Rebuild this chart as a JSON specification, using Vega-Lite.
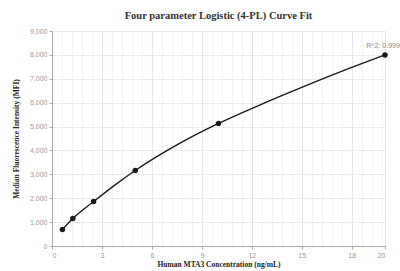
{
  "$schema": "https://vega.github.io/schema/vega-lite/v6.json",
  "autosize": "none",
  "width": 333,
  "height": 215,
  "padding": {"left": 52, "top": 31, "right": 15, "bottom": 25},
  "background": "white",
  "config": {"view": {"stroke": null}},
  "title": {
    "text": "Four parameter Logistic (4-PL) Curve Fit",
    "font": "Liberation Serif",
    "fontSize": 10.5,
    "fontWeight": "bold",
    "color": "#333",
    "offset": 6
  },
  "datasets": {
    "points": [
      {"conc": 0.625, "mfi": 690},
      {"conc": 1.25, "mfi": 1150},
      {"conc": 2.5, "mfi": 1860},
      {"conc": 5, "mfi": 3160},
      {"conc": 10, "mfi": 5130},
      {"conc": 20, "mfi": 8000}
    ],
    "curve": [
      {"conc": 0.625, "mfi": 690},
      {"conc": 1.25, "mfi": 1150},
      {"conc": 2.5, "mfi": 1860},
      {"conc": 3.75, "mfi": 2540},
      {"conc": 5, "mfi": 3160},
      {"conc": 7.5, "mfi": 4230},
      {"conc": 10, "mfi": 5130},
      {"conc": 12.5, "mfi": 5910},
      {"conc": 15, "mfi": 6640},
      {"conc": 17.5, "mfi": 7340},
      {"conc": 20, "mfi": 8000}
    ],
    "label": [
      {"conc": 20, "mfi": 8000, "text": "R^2: 0.9999"}
    ]
  },
  "encoding": {
    "x": {
      "field": "conc",
      "type": "quantitative",
      "scale": {"domain": [0, 20], "nice": false, "zero": true},
      "axis": {
        "title": "Human MTA3 Concentration (ng/mL)",
        "titleFont": "Liberation Serif",
        "titleFontSize": 7.5,
        "titleFontWeight": "bold",
        "titleColor": "#222",
        "titlePadding": 2,
        "values": [0, 0.6, 1.2, 1.8, 2.4, 3, 3.6, 4.2, 4.8, 5.4, 6, 6.6, 7.2, 7.8, 8.4, 9, 9.6, 10.2, 10.8, 11.4, 12, 12.6, 13.2, 13.8, 14.4, 15, 15.6, 16.2, 16.8, 17.4, 18, 18.6, 19.2, 19.8, 20],
        "labelExpr": "(datum.value % 3 === 0 || datum.value === 20) ? format(datum.value, 'd') : ''",
        "labelFont": "Liberation Sans",
        "labelFontSize": 7,
        "labelColor": "#999",
        "labelPadding": 2,
        "domainColor": "#aaa",
        "tickColor": {"condition": {"test": "datum.value % 3 === 0 || datum.value === 20", "value": "#aaa"}, "value": "transparent"},
        "tickSize": 3,
        "grid": true,
        "gridColor": {"condition": {"test": "datum.value % 3 === 0 || datum.value === 20", "value": "#e3e6ea"}, "value": "#f2f2f2"},
        "gridWidth": 1
      }
    },
    "y": {
      "field": "mfi",
      "type": "quantitative",
      "scale": {"domain": [0, 9000], "nice": false},
      "axis": {
        "title": "Median Fluorescence Intensity (MFI)",
        "titleFont": "Liberation Serif",
        "titleFontSize": 7.5,
        "titleFontWeight": "bold",
        "titleColor": "#222",
        "titlePadding": 9,
        "values": [0, 1000, 2000, 3000, 4000, 5000, 6000, 7000, 8000, 9000],
        "labelExpr": "format(datum.value, ',d')",
        "labelFont": "Liberation Sans",
        "labelFontSize": 7,
        "labelColor": "#999",
        "labelPadding": 2,
        "domainColor": "#aaa",
        "tickColor": "#aaa",
        "tickSize": 3,
        "grid": true,
        "gridColor": "#e8ecf0"
      }
    }
  },
  "layer": [
    {
      "data": {"name": "curve"},
      "mark": {"type": "line", "interpolate": "monotone", "color": "#1a1a1a", "strokeWidth": 1.4}
    },
    {
      "data": {"name": "points"},
      "mark": {"type": "point", "filled": true, "color": "#1a1a1a", "size": 30, "opacity": 1}
    },
    {
      "data": {"name": "label"},
      "mark": {"type": "text", "dy": -9, "align": "center", "font": "Liberation Sans", "fontSize": 7, "color": "#888"},
      "encoding": {"text": {"field": "text"}}
    }
  ]
}
